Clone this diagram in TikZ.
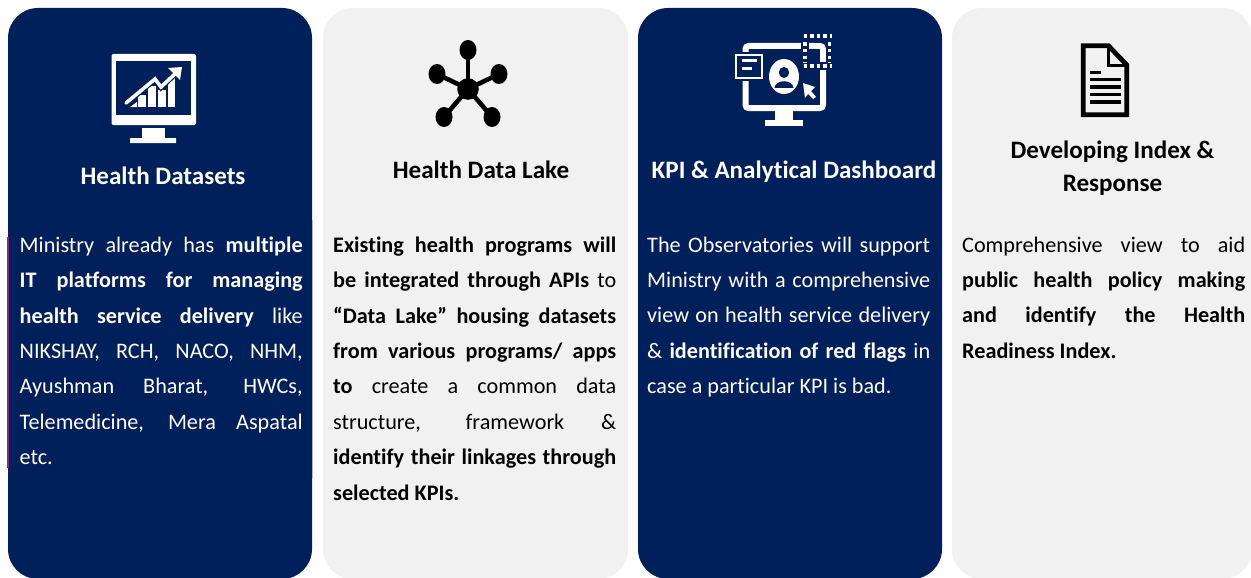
\documentclass[tikz,border=0pt]{standalone}
\usepackage{fontspec}
\setmainfont[Ligatures=NoCommon]{Carlito}
\definecolor{navy}{HTML}{00205C}
\definecolor{paleg}{HTML}{F1F1F1}
\definecolor{plumedge}{HTML}{7B2D7E}
\definecolor{blueedge}{HTML}{A9B8D6}
\newcommand{\jl}[1]{\hbox to 283pt{\spaceskip=0.226em plus 1fil minus 0.05em\relax #1}}
\newcommand{\lastl}[1]{\hbox to 283pt{#1\hfil}}
\newcommand{\bd}[1]{\textbf{#1}}
\tikzset{
 x=1pt,y=-1pt,
 card/.style={rounded corners=30pt},
 cardtitle/.style={font=\fontsize{25.1}{33}\selectfont\bfseries,align=center,inner sep=0pt,anchor=center},
 cardbody/.style={font=\fontsize{22.2}{35.4}\selectfont,inner sep=0pt,anchor=north west,align=left},
 dotrow/.style={white,line width=3.4pt,dash pattern=on 3.4pt off 3.2pt},
}
\begin{document}
\begin{tikzpicture}
\useasboundingbox (0,0) rectangle (1251,578);
\fill[white] (0,0) rectangle (1251,578);
% cards
\fill[navy,card] (8,8) rectangle (312,579);
\fill[paleg,card] (323,8) rectangle (628,579);
\fill[navy,card] (638,8) rectangle (942,579);
\fill[paleg,card] (952,8) rectangle (1252,579);
\draw[color=plumedge,line width=1.2pt] (8,237) -- (8,468);
\draw[color=blueedge,line width=1pt] (312.5,220) -- (312.5,478);
% titles
\node[cardtitle,white] (t1) at (163,176) {Health Datasets};
\node[cardtitle,black] (t2) at (481,170) {Health Data Lake};
\node[cardtitle,white] (t3) at (794,171.5) {KPI \& Analytical Dashboard};
\node[cardtitle,black] (t4) at (1112.5,168.5) {Developing Index \&\\Response};
% bodies
\node[cardbody,white] (b1) at (19.5,236.5) {\vbox{\baselineskip=35.4pt\lineskiplimit=-100pt
\jl{Ministry already has \bd{multiple}}
\jl{\bd{IT platforms for managing}}
\jl{\bd{health service delivery} like}
\jl{NIKSHAY, RCH, NACO, NHM,}
\jl{Ayushman Bharat, HWCs,}
\jl{Telemedicine, Mera Aspatal}
\lastl{etc.}}};
\node[cardbody,black] (b2) at (333,236.5) {\vbox{\baselineskip=35.4pt\lineskiplimit=-100pt
\jl{\bd{Existing health programs will}}
\jl{\bd{be integrated through APIs} to}
\jl{\bd{“Data Lake” housing datasets}}
\jl{\bd{from various programs/ apps}}
\jl{\bd{to} create a common data}
\jl{structure, framework \&}
\jl{\bd{identify their linkages through}}
\lastl{\bd{selected KPIs.}}}};
\node[cardbody,white] (b3) at (647,236.5) {\vbox{\baselineskip=35.4pt\lineskiplimit=-100pt
\jl{The Observatories will support}
\jl{Ministry with a comprehensive}
\jl{view on health service delivery}
\jl{\& \bd{identification of red flags} in}
\lastl{case a particular KPI is bad.}}};
\node[cardbody,black] (b4) at (962,236.5) {\vbox{\baselineskip=35.4pt\lineskiplimit=-100pt
\jl{Comprehensive view to aid}
\jl{\bd{public health policy making}}
\jl{\bd{and identify the Health}}
\lastl{\bd{Readiness Index.}}}};
% icon 1: monitor with chart
\fill[white,rounded corners=2pt] (111.5,54) rectangle (196,125);
\fill[navy] (116,61) rectangle (191,115);
\fill[white] (141.5,128) rectangle (165,138);
\fill[white,rounded corners=0.5pt] (130,138) rectangle (176,143);
\fill[white] (130,107) -- (137,102) -- (137,107) -- cycle;
\fill[white] (138,107) rectangle (146,95);
\fill[white] (148,107) rectangle (156,86);
\fill[white] (158,107) rectangle (166,90);
\fill[white] (168,107) rectangle (175,78);
\draw[navy,line width=6pt] (126,103) -- (155,79) -- (161,87) -- (178,71);
\draw[white,line width=3.6pt,line cap=round,line join=miter] (126,103) -- (155,79) -- (161,87) -- (178,71);
\fill[white] (168,68) -- (182,67) -- (180,80) -- cycle;
% icon 2: hub
\fill[black] (468,89) circle (10.8);
\foreach \ex/\ey in {468/50,437/74,499/74,444/117,492/117}{
  \draw[black,line width=4.6pt] (468,89) -- (\ex,\ey);
  \fill[black] (\ex,\ey) ellipse (8.5 and 10);
}
% icon 3: dashboard monitor
\draw[white,line width=6pt,rounded corners=3pt] (803,46) -- (745.5,46) -- (745.5,108) -- (823,108) -- (823,46) -- (803,46);
\fill[white] (775,111) rectangle (793,120);
\fill[white] (765,119.5) rectangle (803,126);
\fill[navy] (733,52) rectangle (765,81);
\draw[white,line width=2.4pt] (736.2,55.2) rectangle (761.8,77.8);
\fill[white] (742,59) rectangle (757,62);
\fill[white] (742,67.5) rectangle (752,70);
\fill[white] (784,76.5) ellipse (15 and 17.5);
\fill[navy] (784,72.5) ellipse (5.2 and 5.5);
\fill[navy] (774.5,88) .. controls (775,79) and (793,79) .. (793.5,88) -- cycle;
\fill[navy] (801,79) rectangle (817,103);
\fill[white] (803,83) -- (815,87) -- (811,91) -- (816,97) -- (813,99) -- (808,94) -- (805,98) -- cycle;
\fill[navy] (801,33) rectangle (809,70);
\fill[navy] (801,62) rectangle (833,70);
\fill[navy] (815,33) rectangle (833,43);
\fill[navy] (826,43) rectangle (833,70);
\draw[dotrow] (803.5,36) -- (832,36);
\draw[dotrow] (803.5,66) -- (832,66);
\draw[dotrow] (805,42.5) -- (805,63);
\draw[dotrow] (829.5,42.5) -- (829.5,63);
% icon 4: document
\draw[black,line width=4.8pt,line join=miter] (1083.2,45.8) -- (1108.5,45.8) -- (1126.8,65) -- (1126.8,114.8) -- (1083.2,114.8) -- cycle;
\draw[black,line width=3.6pt,line join=miter] (1108.5,46) -- (1108.5,65.5) -- (1128,65.5);
\fill[black] (1090,70.7) rectangle (1100.7,74.3);
\foreach \ly in {79.7,87,94.7,102}{\fill[black] (1090,\ly-1.8) rectangle (1120.7,\ly+1.8);}
\end{tikzpicture}
\end{document}
